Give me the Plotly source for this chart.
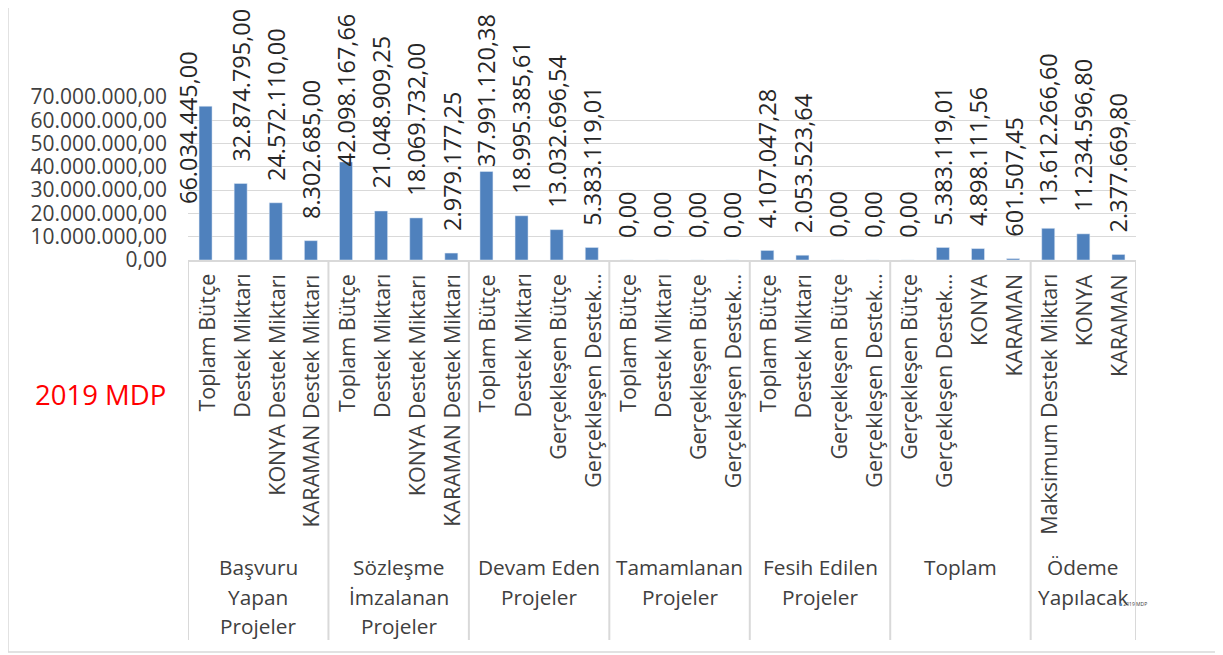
import plotly.graph_objects as go

# ---------------- data ----------------
groups = [
    ["Başvuru", "Yapan", "Projeler"],
    ["Sözleşme", "İmzalanan", "Projeler"],
    ["Devam Eden", "Projeler"],
    ["Tamamlanan", "Projeler"],
    ["Fesih Edilen", "Projeler"],
    ["Toplam"],
    ["Ödeme", "Yapılacak"],
]
group_sizes = [4, 4, 4, 4, 4, 4, 3]

categories = [
    "Toplam Bütçe", "Destek Miktarı", "KONYA Destek Miktarı", "KARAMAN Destek Miktarı",
    "Toplam Bütçe", "Destek Miktarı", "KONYA Destek Miktarı", "KARAMAN Destek Miktarı",
    "Toplam Bütçe", "Destek Miktarı", "Gerçekleşen Bütçe", "Gerçekleşen Destek…",
    "Toplam Bütçe", "Destek Miktarı", "Gerçekleşen Bütçe", "Gerçekleşen Destek…",
    "Toplam Bütçe", "Destek Miktarı", "Gerçekleşen Bütçe", "Gerçekleşen Destek…",
    "Gerçekleşen Bütçe", "Gerçekleşen Destek…", "KONYA", "KARAMAN",
    "Maksimum Destek Miktarı", "KONYA", "KARAMAN",
]

values = [
    66034445.00, 32874795.00, 24572110.00, 8302685.00,
    42098167.66, 21048909.25, 18069732.00, 2979177.25,
    37991120.38, 18995385.61, 13032696.54, 5383119.01,
    0.00, 0.00, 0.00, 0.00,
    4107047.28, 2053523.64, 0.00, 0.00,
    0.00, 5383119.01, 4898111.56, 601507.45,
    13612266.60, 11234596.80, 2377669.80,
]

series_name = "2019 MDP"
y_ticks = [0, 10e6, 20e6, 30e6, 40e6, 50e6, 60e6, 70e6]

# ---------------- layout geometry (page pixels) ----------------
W, H = 1223, 655
OFF = 8  # default page body margin
PL, PR, PT, PB = 188, 1136, 97, 260
PW, PH = PR - PL, PB - PT
YMAX = 70e6
FONT = "Open Sans"
TXT = "#404040"
VAL = "#262626"
GRID = "#D9D9D9"
BAR = "#4F81BD"


def py(px):
    return (PB - px) / PH


def pxx(px):
    return (px - PL) / PW


def fmt(v):
    s = f"{v:,.2f}"
    return s.replace(",", "X").replace(".", ",").replace("X", ".")


n = len(values)
xs = list(range(n))

fig = go.Figure()
fig.add_trace(go.Bar(
    x=xs, y=values, name=series_name, marker_color=BAR, width=0.37,
    showlegend=False, hoverinfo="skip",
))

annotations = []
shapes = []

# value labels
GAP = 17
CHAR = 11.77
VSIZE = 23.5
for i, v in enumerate(values):
    t = fmt(v)
    bar_top = PB - v / YMAX * PH
    L = len(t) * CHAR
    natural_top = bar_top - GAP - L
    if natural_top >= 12:
        annotations.append(dict(x=i, y=v, xref="x", yref="y", text=t, textangle=-90,
                                showarrow=False, yanchor="bottom", xanchor="center",
                                yshift=20, font=dict(family=FONT, size=VSIZE, color=VAL)))
    else:
        top = 12
        xshift = 0
        if top + L > bar_top + 10:
            top = 49
            xshift = -17
        annotations.append(dict(x=i, y=py(top), xref="x", yref="paper", text=t, textangle=-90,
                                showarrow=False, yanchor="top", xanchor="center", xshift=xshift,
                                font=dict(family=FONT, size=VSIZE, color=VAL)))

# category labels
for i, c in enumerate(categories):
    annotations.append(dict(x=i, y=0, xref="x", yref="paper", text=c, textangle=-90,
                            showarrow=False, yanchor="top", xanchor="center", yshift=-12,
                            font=dict(family=FONT, size=21.5, color=TXT)))

# group labels and separators
LINE_Y = [567, 597, 626]
start = 0
bounds = [-0.5]
for g, sz in zip(groups, group_sizes):
    center = start + (sz - 1) / 2
    for k, line in enumerate(g):
        annotations.append(dict(x=center, y=py(LINE_Y[k]), xref="x", yref="paper", text=line,
                                showarrow=False, yanchor="middle", xanchor="center",
                                font=dict(family=FONT, size=20.8, color=TXT)))
    start += sz
    bounds.append(start - 0.5)

for b in bounds:
    shapes.append(dict(type="line", xref="x", yref="paper", x0=b, x1=b, y0=0, y1=py(640),
                       line=dict(color=GRID, width=2)))

# outer chart border
shapes.append(dict(type="rect", xref="paper", yref="paper",
                   x0=pxx(8), x1=pxx(1220), y0=py(652), y1=py(4),
                   line=dict(color=GRID, width=1.5)))

# red series text
annotations.append(dict(x=pxx(100), y=py(394), xref="paper", yref="paper", text=series_name,
                        showarrow=False, xanchor="center", yanchor="middle",
                        font=dict(family=FONT, size=27.5, color="#FF0000")))

# tiny legend
annotations.append(dict(x=pxx(1117), y=py(604), xref="paper", yref="paper",
                        text=f"<span style='color:{BAR}'>■</span> {series_name}",
                        showarrow=False, xanchor="left", yanchor="middle",
                        font=dict(family=FONT, size=5, color=TXT)))

fig.update_layout(
    width=W - OFF, height=H - OFF,
    margin=dict(l=PL - OFF, r=W - PR, t=PT - OFF, b=H - PB, pad=0),
    paper_bgcolor="white", plot_bgcolor="white",
    separators=",.",
    showlegend=False,
    annotations=annotations, shapes=shapes,
    font=dict(family=FONT, color=TXT),
)
fig.update_xaxes(range=[-0.5, n - 0.5], showticklabels=False, showgrid=False, zeroline=False,
                 showline=True, linecolor=GRID, linewidth=2, fixedrange=True)
fig.update_yaxes(range=[0, YMAX], tickvals=y_ticks, tickformat=",.2f", showgrid=True,
                 gridcolor=GRID, gridwidth=1.3, zeroline=False, showline=False, ticks="",
                 ticklabelstandoff=20, tickfont=dict(family=FONT, size=21, color=TXT),
                 fixedrange=True)

fig.write_html("out.html")
